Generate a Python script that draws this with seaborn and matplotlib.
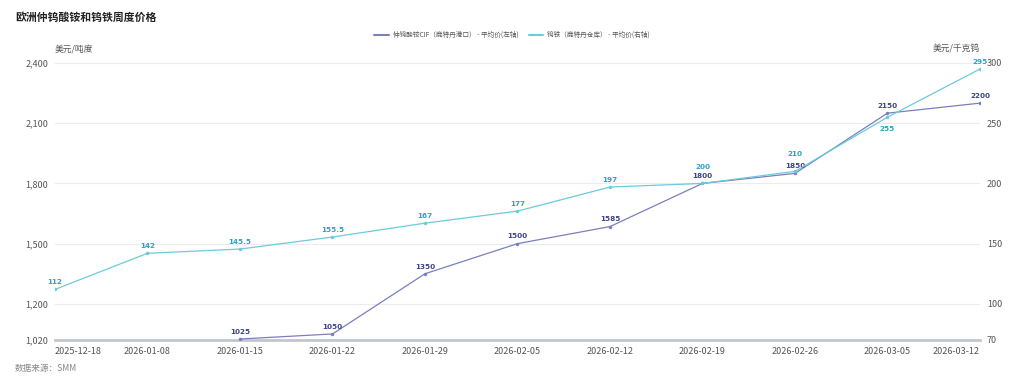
import matplotlib
matplotlib.use("Agg")
import matplotlib.pyplot as plt
import numpy as np
import pandas as pd
import seaborn as sns
from matplotlib.ticker import FuncFormatter

# weekly dates (categorical, evenly spaced)
DATES = [
    "2025-12-18", "2026-01-08", "2026-01-15", "2026-01-22", "2026-01-29",
    "2026-02-05", "2026-02-12", "2026-02-19", "2026-02-26", "2026-03-05",
    "2026-03-12",
]
# APT CIF Rotterdam, USD/mtu (left axis) - no quote for the first two weeks
APT = [np.nan, np.nan, 1025, 1050, 1350, 1500, 1585, 1800, 1850, 2150, 2200]
# ferro-tungsten Rotterdam warehouse, USD/kg W (right axis)
FEW = [112, 142, 145.5, 155.5, 167, 177, 197, 200, 210, 255, 295]

LEFT_TICKS = [1020, 1200, 1500, 1800, 2100, 2400]
RIGHT_TICKS = [70, 100, 150, 200, 250, 300]

APT_NAME = "仲钨酸铵CIF（鹿特丹港口） - 平均价(左轴)"
FEW_NAME = "钨铁（鹿特丹仓库） - 平均价(右轴)"

APT_LINE, APT_TEXT = "#7b7fbd", "#3d4585"
FEW_LINE, FEW_TEXT = "#6acbdd", "#2ea2c4"

sns.set_theme(style="white")
plt.rcParams["font.family"] = ["Noto Sans CJK SC", "DejaVu Sans"]

df = pd.DataFrame({"pos": np.arange(len(DATES)), "date": DATES, "apt": APT, "few": FEW})

fig = plt.figure(figsize=(10.24, 3.85), dpi=100)
ax = fig.add_axes([0.0537, 0.1169, 0.9033, 0.7195])
ax2 = ax.twinx()

sns.lineplot(data=df.dropna(subset=["apt"]), x="pos", y="apt", ax=ax, color=APT_LINE,
             linewidth=0.9, marker="o", markersize=2.5, markeredgewidth=0, zorder=3)
sns.lineplot(data=df, x="pos", y="few", ax=ax2, color=FEW_LINE,
             linewidth=0.9, marker="o", markersize=2.5, markeredgewidth=0, zorder=3)


def fmt_val(v):
    return f"{v:g}"


# where the two series nearly touch, lift/lower the ferro-tungsten labels a little
FEW_OFFSET = {7: (0, 10), 8: (0, 10), 9: (0, -11)}

for _, r in df.dropna(subset=["apt"]).iterrows():
    ax.annotate(fmt_val(r["apt"]), (r["pos"], r["apt"]), xytext=(0, 3), textcoords="offset points",
                ha="center", va="bottom", fontsize=5.2, fontweight="bold", color=APT_TEXT,
                family="DejaVu Sans", annotation_clip=False)
for _, r in df.iterrows():
    ax2.annotate(fmt_val(r["few"]), (r["pos"], r["few"]), xytext=FEW_OFFSET.get(int(r["pos"]), (0, 3)),
                 textcoords="offset points", ha="center", va="bottom", fontsize=5.2,
                 fontweight="bold", color=FEW_TEXT, family="DejaVu Sans", annotation_clip=False)

ax.set_xlim(0, len(DATES) - 1)
ax.set_ylim(LEFT_TICKS[0], LEFT_TICKS[-1])
ax2.set_ylim(RIGHT_TICKS[0], RIGHT_TICKS[-1])
ax.set_yticks(LEFT_TICKS)
ax2.set_yticks(RIGHT_TICKS)
ax.yaxis.set_major_formatter(FuncFormatter(lambda v, _: f"{v:,.0f}"))
ax.set_xticks(df["pos"])
ax.set_xticklabels(DATES)
labels = ax.get_xticklabels()
labels[0].set_ha("left")
labels[-1].set_ha("right")

for a in (ax, ax2):
    a.set_xlabel("")
    a.set_ylabel("")
    for s in a.spines.values():
        s.set_visible(False)
    a.tick_params(length=0, labelsize=6.5, labelcolor="#555555")
ax.tick_params(axis="x", pad=5)
ax.tick_params(axis="y", pad=5)
ax2.tick_params(axis="y", pad=5)
ax.spines["bottom"].set_visible(True)
ax.spines["bottom"].set_color("#c3c6cf")
ax.spines["bottom"].set_linewidth(2)
ax.grid(axis="y", color="#ececec", linewidth=0.8)
ax.set_axisbelow(True)
ax2.grid(False)

fig.text(15 / 1024, 1 - 18 / 385, "欧洲仲钨酸铵和钨铁周度价格", fontsize=7.8, fontweight="bold",
         color="#222222", va="center", ha="left")
fig.text(55 / 1024, 1 - 49 / 385, "美元/吨度", fontsize=6.3, color="#555555", va="center", ha="left")
fig.text(980 / 1024, 1 - 49 / 385, "美元/千克钨", fontsize=6.3, color="#555555", va="center", ha="right")
fig.text(15 / 1024, 1 - 369 / 385, "数据来源：SMM", fontsize=6.2, color="#888888", style="italic",
         va="center", ha="left")

handles = [plt.Line2D([], [], color=APT_LINE, linewidth=1.5),
           plt.Line2D([], [], color=FEW_LINE, linewidth=1.5)]
fig.legend(handles, [APT_NAME, FEW_NAME], loc="center", bbox_to_anchor=(0.5, 1 - 35 / 385),
           ncol=2, frameon=False, fontsize=4.8, handlelength=2.2, columnspacing=1.5,
           handletextpad=0.6, labelcolor="#555555")

fig.savefig("out.png", dpi=100)
